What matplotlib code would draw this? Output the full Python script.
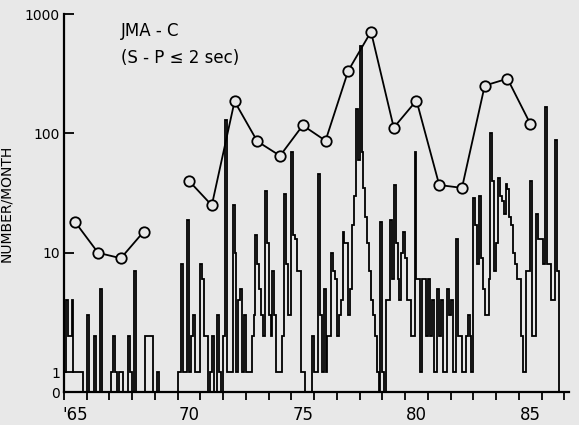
import numpy as np
import matplotlib
matplotlib.use('Agg')
import matplotlib.pyplot as plt
from matplotlib import font_manager
from matplotlib.ticker import NullLocator

# Schmale Schrift, falls vorhanden
names = {f.name for f in font_manager.fontManager.ttflist}
fam = 'Liberation Sans Narrow' if 'Liberation Sans Narrow' in names else 'DejaVu Sans'
plt.rcParams['font.family'] = [fam, 'DejaVu Sans']

# Jahreswerte (Kreise)
years = np.arange(1965, 1986) + 0.5
annual = [18, 10, 9, 15, np.nan, 40, 25, 186, 86, 65, 117,
          87, 336, 713, 112, 189, 37, 35, 252, 288, 121]

# Monatswerte (Treppenkurve), je Jahr Jan..Dez
m1965 = [1, 4, 2, 2, 4, 1, 1, 1, 1, 1, 0, 0]
m1966 = [3, 0, 0, 0, 2, 0, 0, 5, 0, 0, 0, 0]
m1967 = [0, 1, 2, 1, 0, 1, 1, 0, 0, 0, 2, 1]
m1968 = [0, 7, 0, 0, 0, 0, 0, 2, 2, 2, 2, 0]
m1969 = [0, 1, 0, 0, 0, 0, 0, 0, 0, 0, 0, 0]
m1970 = [1, 1, 8, 1, 1, 19, 1, 2, 3, 1, 1, 1]
m1971 = [8, 6, 2, 2, 0, 1, 2, 0, 0, 3, 1, 0]
m1972 = [2, 130, 1, 1, 1, 25, 10, 1, 4, 5, 1, 3]
m1973 = [1, 1, 1, 2, 3, 14, 8, 5, 3, 2, 33, 12]
m1974 = [3, 2, 7, 3, 1, 1, 1, 2, 31, 8, 3, 3]
m1975 = [70, 14, 13, 7, 7, 1, 1, 0, 0, 0, 0, 2]
m1976 = [1, 1, 46, 3, 1, 5, 1, 2, 2, 10, 7, 6]
m1977 = [2, 3, 4, 15, 12, 12, 3, 5, 17, 30, 160, 60]
m1978 = [540, 70, 35, 20, 12, 7, 4, 3, 2, 1, 0, 18]
m1979 = [1, 0, 4, 4, 19, 6, 37, 12, 6, 4, 10, 15]
m1980 = [9, 4, 4, 2, 2, 70, 6, 6, 1, 6, 6, 2]
m1981 = [6, 2, 4, 1, 1, 5, 2, 4, 1, 1, 5, 3]
m1982 = [4, 1, 1, 13, 2, 2, 1, 1, 2, 3, 2, 1]
m1983 = [29, 17, 8, 30, 9, 5, 3, 3, 6, 100, 40, 7]
m1984 = [12, 42, 30, 27, 21, 38, 34, 20, 17, 10, 8, 6]
m1985 = [6, 2, 1, 1, 7, 7, 40, 2, 2, 21, 13, 13]
m1986 = [13, 8, 166, 8, 8, 4, 4, 88, 7]

monthly = np.array(m1965 + m1966 + m1967 + m1968 + m1969 + m1970 + m1971 + m1972
                   + m1973 + m1974 + m1975 + m1976 + m1977 + m1978 + m1979 + m1980
                   + m1981 + m1982 + m1983 + m1984 + m1985 + m1986, dtype=float)
edges = 1965 + np.arange(len(monthly) + 1) / 12.0

# log-Achse, 0 knapp unter 1
K = 0.167
def fwd(v):
    v = np.asarray(v, float)
    return np.where(v >= 1, np.log10(np.maximum(v, 1)), (v - 1) * K)

def inv(y):
    y = np.asarray(y, float)
    return np.where(y >= 0, 10 ** np.clip(y, 0, 10), 1 + y / K)

bg = '#e8e8e8'
fig = plt.figure(figsize=(5.79, 4.25), dpi=100, facecolor=bg)
ax = fig.add_axes([0.1105, 0.0776, 0.872, 0.889], facecolor=bg)
ax.set_yscale('function', functions=(fwd, inv))

ax.stairs(monthly, edges, baseline=0, color='black', lw=1.3)
ax.plot(years, annual, '-o', color='black', lw=1.3, ms=7.5,
        mfc=bg, mec='black', mew=1.3)

ax.set_ylim(0, 1000)
ax.set_xlim(1965, 1987.2)
ax.set_yticks([0, 1, 10, 100, 1000])
ax.set_yticklabels(['0', '1', '10', '100', '1000'])
ax.yaxis.set_minor_locator(NullLocator())
ax.tick_params(axis='y', direction='in', length=7, width=1.3, labelsize=10, pad=3)

ax.set_xticks(np.arange(1965, 1988))
ax.set_xticklabels([])
ax.set_xticks([1965.5, 1970.5, 1975.5, 1980.5, 1985.5], minor=True)
ax.set_xticklabels(["'65", '70', '75', '80', '85'], minor=True)
ax.tick_params(axis='x', which='major', direction='out', length=6, width=1.3)
ax.tick_params(axis='x', which='minor', length=0, labelsize=12, pad=10)

for s in ['top', 'right']:
    ax.spines[s].set_visible(False)
for s in ['left', 'bottom']:
    ax.spines[s].set_linewidth(1.6)

ax.set_ylabel('NUMBER/MONTH', fontsize=10, labelpad=8)
ax.text(0.113, 0.955, 'JMA - C', transform=ax.transAxes, fontsize=12, va='center')
ax.text(0.113, 0.885, '(S - P \u2264 2 sec)', transform=ax.transAxes, fontsize=12, va='center')

fig.savefig('out.png', dpi=100, facecolor=bg)
